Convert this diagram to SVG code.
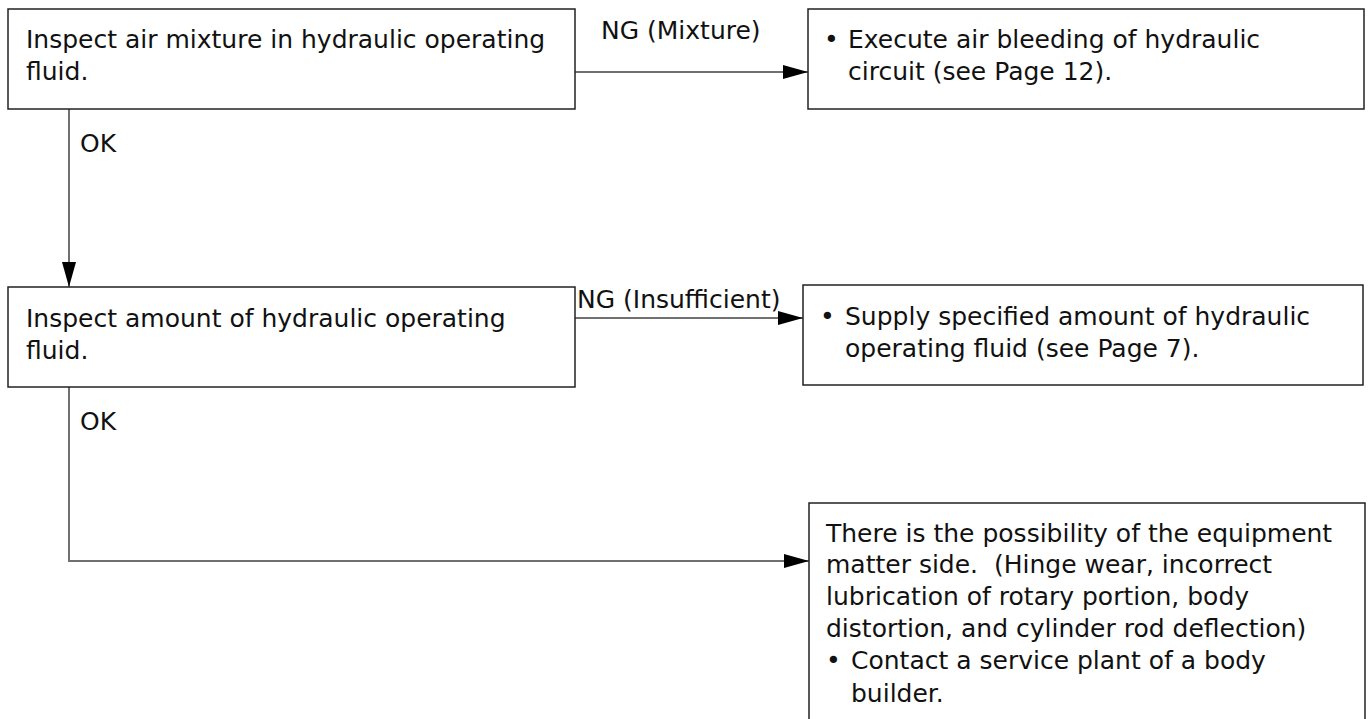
<svg xmlns="http://www.w3.org/2000/svg" width="1370" height="719" viewBox="0 0 1370 719">
<style>
.box{fill:#fff;stroke:#222;stroke-width:1.5}
.t{font-family:"DejaVu Sans","Liberation Sans",sans-serif;font-size:25px;fill:#111}
.c{fill:none;stroke:#707070;stroke-width:2}
</style>
<defs>
<marker id="ah" markerUnits="userSpaceOnUse" markerWidth="26" markerHeight="16" refX="25" refY="7" orient="auto">
<path d="M0,0 L25,7 L0,14 Z" fill="#000"/>
</marker>
</defs>
<rect width="1370" height="719" fill="#fff"/>
<g id="connectors">
<line class="c" x1="575" y1="72" x2="808" y2="72" marker-end="url(#ah)"/>
<line class="c" x1="69" y1="109" x2="69" y2="287" marker-end="url(#ah)"/>
<line class="c" x1="575" y1="318" x2="803" y2="318" marker-end="url(#ah)"/>
<polyline class="c" points="69,387 69,561 809,561" marker-end="url(#ah)"/>
<text class="t" x="601" y="39">NG (Mixture)</text>
<text class="t" x="80" y="152">OK</text>
<text class="t" x="577" y="308">NG (Insufficient)</text>
<text class="t" x="80" y="430">OK</text>
</g>
<g id="n1">
<rect class="box" x="8" y="9" width="567" height="100"/>
<text class="t" x="26" y="48">Inspect air mixture in hydraulic operating</text>
<text class="t" x="26" y="80">fluid.</text>
</g>
<g id="n2">
<rect class="box" x="808" y="9" width="556" height="100"/>
<text class="t" x="824" y="48">•</text>
<text class="t" x="848" y="48">Execute air bleeding of hydraulic</text>
<text class="t" x="848" y="80">circuit (see Page 12).</text>
</g>
<g id="n3">
<rect class="box" x="8" y="287" width="567" height="100"/>
<text class="t" x="26" y="327">Inspect amount of hydraulic operating</text>
<text class="t" x="26" y="359">fluid.</text>
</g>
<g id="n4">
<rect class="box" x="803" y="285" width="560" height="100"/>
<text class="t" x="820" y="325">•</text>
<text class="t" x="845" y="325">Supply specified amount of hydraulic</text>
<text class="t" x="845" y="357">operating fluid (see Page 7).</text>
</g>
<g id="n5">
<rect class="box" x="809" y="503" width="556" height="240"/>
<text class="t" x="826" y="542">There is the possibility of the equipment</text>
<text class="t" x="826" y="573" xml:space="preserve">matter side.  (Hinge wear, incorrect</text>
<text class="t" x="826" y="605">lubrication of rotary portion, body</text>
<text class="t" x="826" y="637">distortion, and cylinder rod deflection)</text>
<text class="t" x="826" y="669">•</text>
<text class="t" x="851" y="669">Contact a service plant of a body</text>
<text class="t" x="851" y="702">builder.</text>
</g>
</svg>
